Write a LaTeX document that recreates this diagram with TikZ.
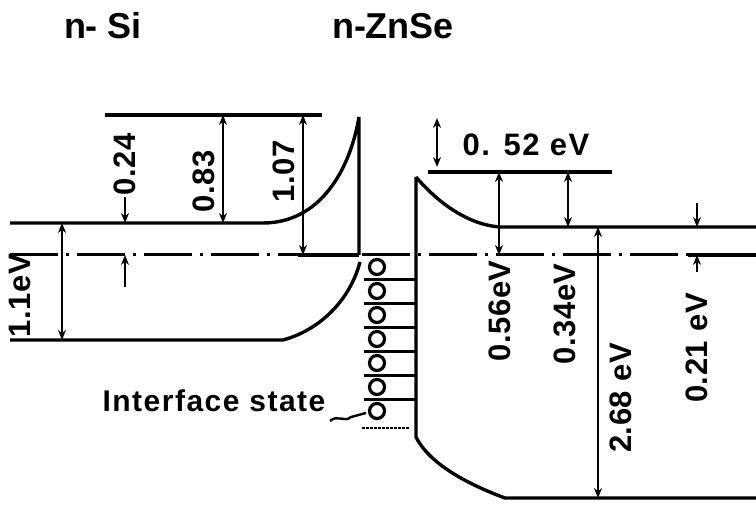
\documentclass[tikz,border=0pt]{standalone}
\usepackage{fontspec}
\setmainfont{Liberation Sans}
\usetikzlibrary{arrows.meta}

\tikzset{
  band/.style={black, line width=3.4pt},
  fermi/.style={black, line width=3pt, dash pattern=on 48pt off 8pt on 3pt off 8pt},
  gap/.style={black, line width=2.6pt, {Stealth[length=10pt,width=8pt]}-{Stealth[length=10pt,width=8pt]}},
  tick/.style={black, line width=2.6pt, -{Stealth[length=10pt,width=8pt]}},
  lbl/.style={inner sep=0pt, font=\fontsize{31}{33}\selectfont\bfseries\addfontfeatures{LetterSpace=2}},
  vlbl/.style={lbl, rotate=90},
  head/.style={inner sep=0pt, font=\fontsize{36}{40}\selectfont\bfseries}
}

\begin{document}
\begin{tikzpicture}[x=1pt, y=-1pt]
\useasboundingbox (0,0) rectangle (756,505);

% titles
\node[head] (si) at (103,26) {n- Si};
\node[head] (znse) at (393,26) {n-ZnSe};

% n-Si bands
\draw[band] (105,115) -- (322,115);
\draw[band] (10,223) -- (263,223) .. controls (320,223) and (350,170) .. (359,117) -- (359,255);
\draw[band] (10,340) -- (283,340) .. controls (320,330) and (350,300) .. (360,262);
\draw[fermi] (10,255) -- (300,255);
\draw[band] (298,255) -- (359,255);

% n-ZnSe bands
\draw[band] (428,172) -- (612,172);
\draw[band] (416,177) .. controls (440,205) and (470,225) .. (500,227) -- (756,227);
\draw[band] (416,177) -- (416,437) .. controls (430,465) and (470,485) .. (505,498) -- (756,498);
\draw[fermi] (362,255) -- (690,255);
\draw[band] (688,255) -- (756,255);

% interface states
\foreach \k in {0,...,6}
  \draw[black, line width=3.2pt] (377,267+24*\k) circle (7.5pt);
\foreach \k in {0,...,5}
  \draw[black, line width=3pt] (364,280+24*\k) -- (416,280+24*\k);
\draw[black, line width=2.6pt, dash pattern=on 3pt off 1pt] (362,428) -- (410,428);
\node[lbl, font=\fontsize{30}{32}\selectfont\bfseries\addfontfeatures{LetterSpace=5}] (istate) at (214,401) {Interface state};
\coordinate (ist) at (366,413);
\draw[black, line width=2.4pt] (330,421) .. controls (338,414) and (344,423) .. (351,417) -- (ist);

% n-Si gaps
\draw[gap] (62,223) -- (62,340);
\node[vlbl] (eg1) at (20,296) {1.1eV};
\draw[tick] (125,197) -- (125,223);
\draw[tick] (125,287) -- (125,255);
\node[vlbl] (d24) at (125,164) {0.24};
\draw[gap] (223,115) -- (223,223);
\node[vlbl] (d83) at (204,181) {0.83};
\draw[gap] (303,115) -- (303,255);
\node[vlbl] (d107) at (284,171) {1.07};

% n-ZnSe gaps
\draw[gap] (437,118) -- (437,167);
\node[lbl, font=\fontsize{31}{33}\selectfont\bfseries\addfontfeatures{LetterSpace=5}] (d52) at (526,145) {0. 52 eV};
\draw[gap] (499,172) -- (499,255);
\node[vlbl] (d56) at (500,311) {0.56eV};
\draw[gap] (568,172) -- (568,227);
\node[vlbl] (d34) at (565,314) {0.34eV};
\draw[gap] (598,227) -- (598,498);
\node[vlbl] (eg2) at (621,398) {2.68 eV};
\draw[tick] (697,203) -- (697,227);
\draw[tick] (697,272) -- (697,255);
\node[vlbl] (d21) at (697,348) {0.21 eV};
\end{tikzpicture}
\end{document}
